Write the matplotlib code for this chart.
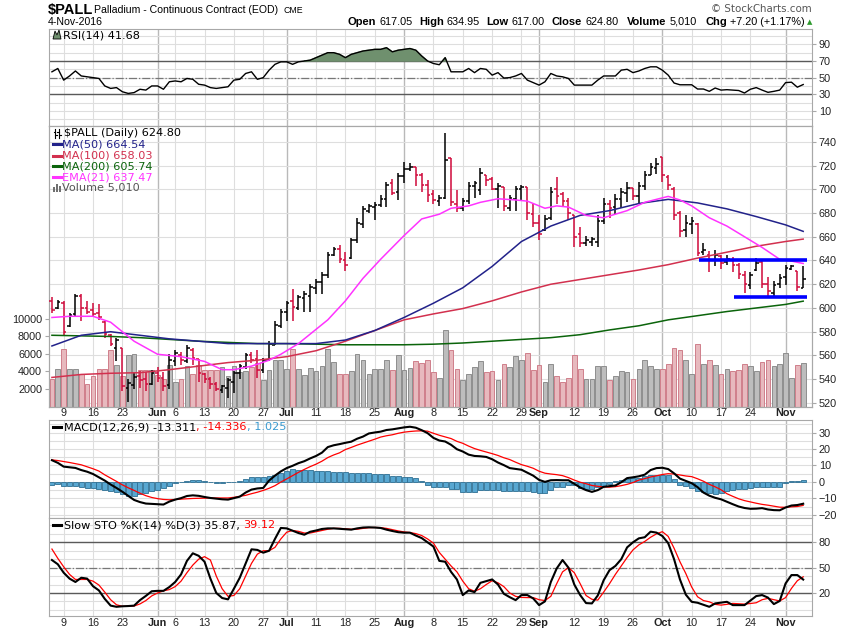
#! /usr/bin/env python3
import numpy as np
import pandas as pd
import matplotlib
matplotlib.use("Agg")
import matplotlib.pyplot as plt
import matplotlib.transforms as mtransforms
from matplotlib.patches import Polygon, Rectangle
from matplotlib.lines import Line2D

plt.rcParams['font.family'] = 'Liberation Sans'

W, H = 850, 633

# trading days on the chart (exchange holidays dropped)
holidays = ["2016-05-30", "2016-07-04", "2016-09-05"]
dates = pd.bdate_range("2016-05-05", "2016-11-04")
dates = dates[~dates.isin(pd.to_datetime(holidays))]

opens = [606, 600, 604, 585, 595, 610, 600, 598, 596, 588,
         577, 566, 566, 533, 535, 543, 540, 536, 545, 541,
         535, 555, 560, 555, 565, 557, 544, 540, 536, 531,
         533, 538, 545, 550, 560, 557, 548, 556, 569, 585,
         597, 606, 600, 608, 610, 617, 622, 628, 645, 650,
         640, 642, 657, 671, 682, 685, 687, 692, 705, 698,
         711, 717, 719, 712, 704, 696, 690, 693, 726, 688,
         684, 690, 703, 699, 712, 709, 700, 702, 684, 692,
         700, 702, 679, 672, 666, 676, 700, 696, 690, 678,
         662, 655, 656, 656, 673, 688, 685, 692, 697, 701,
         694, 703, 712, 718, 727, 710, 700, 680, 666, 671,
         671, 647, 645, 640, 644, 639, 640, 636, 628, 619,
         632, 639, 620, 613, 620, 626, 633, 631, 617.05]
highs = [609, 607, 606, 596, 612, 612, 606, 604, 603, 589,
         578, 575, 566, 540, 545, 547, 546, 548, 550, 546,
         561, 565, 563, 569, 566, 557, 545, 542, 538, 535,
         541, 547, 553, 562, 563, 565, 558, 572, 589, 599,
         606, 616, 611, 614, 620, 624, 630, 647, 651, 653,
         647, 659, 676, 686, 688, 689, 695, 706, 709, 714,
         723, 722, 719, 714, 708, 699, 695, 747, 726, 699,
         693, 706, 707, 718, 712, 710, 705, 702, 695, 703,
         704, 702, 688, 678, 678, 702, 710, 698, 693, 678,
         668, 661, 660, 678, 693, 691, 696, 701, 706, 701,
         706, 715, 722, 726, 727, 712, 702, 682, 678, 677,
         672, 655, 648, 649, 645, 645, 643, 638, 631, 630,
         642, 640, 626, 623, 629, 636, 636, 631, 634.95]
lows = [596, 599, 576, 584, 593, 589, 595, 593, 590, 575,
        568, 555, 530, 521, 532, 533, 530, 535, 538, 530,
        532, 551, 552, 554, 552, 538, 537, 532, 530, 528,
        524, 528, 540, 549, 554, 541, 545, 555, 569, 583,
        589, 589, 598, 597, 597, 612, 612, 625, 644, 638,
        631, 641, 655, 667, 680, 674, 685, 685, 695, 691,
        705, 715, 703, 698, 689, 688, 686, 692, 686, 681,
        682, 688, 693, 695, 703, 699, 684, 682, 682, 682,
        690, 674, 668, 657, 665, 674, 688, 685, 674, 651,
        651, 652, 652, 651, 671, 676, 679, 684, 689, 691,
        688, 699, 712, 713, 706, 699, 674, 660, 660, 662,
        644, 645, 630, 635, 633, 636, 630, 624, 613, 616,
        631, 617, 610, 610, 617, 619, 632, 614, 617.00]
closes = [598, 605, 580, 594, 610, 600, 597, 595, 592, 578,
          570, 573, 534, 537, 542, 539, 536, 545, 541, 534,
          556, 562, 556, 566, 558, 545, 540, 536, 532, 534,
          539, 545, 551, 560, 556, 548, 556, 570, 586, 597,
          604, 601, 609, 612, 618, 622, 628, 645, 650, 641,
          636, 657, 672, 683, 686, 687, 692, 704, 697, 711,
          717, 719, 712, 704, 695, 691, 693, 725, 689, 684,
          690, 703, 705, 714, 708, 700, 703, 686, 693, 700,
          702, 680, 672, 662, 675, 698, 694, 690, 680, 660,
          655, 657, 658, 673, 688, 684, 692, 698, 701, 694,
          703, 712, 719, 721, 712, 704, 678, 665, 672, 673,
          646, 649, 640, 645, 638, 641, 636, 629, 620, 628,
          638, 620, 614, 619, 625, 634, 635, 617.6, 624.80]
volume = [3160, 4230, 6510, 4230, 4300, 3660, 2510, 3430, 4300, 4230,
          6400, 4690, 3430, 5900, 6020, 4190, 4150, 4150, 3580, 3090,
          4760, 2780, 3120, 4650, 3660, 4690, 4150, 4150, 4150, 4490,
          3430, 4570, 3920, 4000, 4490, 4950, 2970, 4150, 5260, 5330,
          4300, 6590, 4230, 3540, 4420, 4000, 4650, 6590, 5070, 3660,
          3660, 4000, 5940, 5330, 3730, 4300, 4230, 5330, 4150, 5830,
          4150, 4420, 5140, 4950, 5330, 3920, 3280, 8770, 6400, 4300,
          2970, 3730, 4490, 5140, 3920, 4000, 2970, 4870, 4490, 5710,
          5330, 6100, 4150, 4690, 2780, 4800, 3430, 2780, 3280, 5830,
          4230, 3160, 3160, 4570, 4650, 3050, 3430, 4000, 3920, 3160,
          4230, 5330, 4570, 4300, 4300, 4800, 6700, 6480, 5330, 3660,
          7160, 4800, 5330, 4690, 3730, 4300, 4000, 4150, 4800, 4650,
          4000, 5070, 5330, 4650, 4800, 6130, 3280, 4760, 5010]

# simple moving averages read once a week
ma_idx = [0, 5, 10, 15, 20, 25, 30, 35, 40, 45, 50, 55, 60, 65, 70,
          75, 80, 85, 90, 95, 100, 105, 110, 115, 120, 125, 128]
ma50 = [568, 577, 580, 577, 574, 572, 570, 570, 570, 570, 573, 581, 592, 604, 617,
        635, 656, 669, 678, 682, 688, 691.5, 688.5, 683.5, 677, 670, 664.54]
ma100 = [541.5, 544, 545, 545.5, 548, 551, 554, 556, 559, 564, 572, 581, 590, 595, 599.5,
         606, 613.5, 620, 624, 628, 632, 636.5, 642, 647, 652, 656, 658.03]
ma200 = [577, 576.5, 576, 575, 573.5, 572, 571, 570, 570, 569.5, 569, 569, 569, 569.5, 570.5,
         572, 573.5, 575, 577.5, 581.5, 585, 590, 593.5, 597, 600, 603, 605.74]
# EMA bends more, read more often
ema_idx = [0, 3, 7, 10, 14, 18, 22, 26, 29, 31, 34, 37, 39, 42, 45, 47, 50, 53, 56,
           60, 63, 66, 68, 71, 73, 76, 79, 81, 84, 86, 88, 91, 94, 98, 101, 105, 107,
           109, 112, 115, 121, 124, 126, 128]
ema21 = [592, 593, 593, 588, 572, 561, 559, 555, 548, 548, 551, 556, 561, 570, 582, 590,
         606, 625, 641, 661, 675, 679, 684, 686, 689, 692, 691, 690, 684, 686, 685, 678,
         676, 682, 689, 694, 691, 686, 676, 669, 651, 641, 639.5, 637.47]

rsi = [57, 61, 47, 52, 58, 52, 51, 50, 49, 40,
       37, 38, 33, 31, 32, 36, 35, 40, 40, 36,
       45, 46, 45, 49, 48, 42, 41, 38, 37, 38,
       39, 47, 48, 55, 57, 48, 50, 59, 66, 69,
       69, 66, 69, 70, 71, 74, 77, 80, 80, 78,
       74, 78, 80, 82, 83, 84, 84, 86, 81, 83,
       84, 85, 83, 76, 70, 67, 65.5, 74, 57, 57,
       57, 61, 56, 61, 60, 53, 56, 49.5, 50, 52,
       55, 47, 44, 41, 45, 55, 52, 51, 49, 41,
       41, 41, 41, 47, 52, 52, 52, 59, 60, 56,
       58, 61, 63, 63, 59, 53, 43.5, 41.4, 41.4, 41.4,
       36.3, 36.3, 33.5, 37.5, 35, 35.5, 35, 34.5, 31.5, 36,
       38, 35, 32.3, 33.5, 35, 44, 44.5, 38.5, 41.68]

macd = [13.2, 11.6, 9.3, 8.9, 8.5, 7.2, 6.2, 4.8, 2.8, 0.8,
        -1.6, -3.7, -6.0, -8.5, -11.0, -12.3, -13.2, -13.4, -13.6, -13.8,
        -12.0, -10.8, -9.9, -8.6, -8.2, -8.5, -9.2, -9.8, -10.2, -10.6,
        -10.8, -9.9, -9.0, -6.5, -4.7, -4.0, -3.7, 0.8, 3.8, 6.4,
        8.4, 9.8, 11.4, 12.6, 14.3, 15.8, 17.8, 21.2, 22.3, 23.0,
        23.8, 24.5, 26.3, 27.6, 29.5, 30.1, 30.6, 31.6, 32.0, 32.6,
        33.2, 33.6, 33.0, 31.5, 29.7, 26.8, 25.2, 24.6, 22.6, 19.9,
        18.5, 16.6, 15.8, 15.6, 15.2, 13.8, 11.8, 10.2, 8.4, 7.9,
        7.4, 5.6, 3.8, 1.2, 0.0, 1.0, 1.1, 1.0, 1.0, -1.2,
        -3.4, -5.0, -6.1, -5.0, -3.0, -2.6, -2.2, -0.2, 2.3, 2.8,
        3.4, 4.4, 7.2, 8.4, 8.6, 7.8, 5.2, 2.0, 0.6, -0.8,
        -3.2, -6.5, -8.4, -9.7, -10.6, -12.1, -13.6, -15.0, -15.9, -16.4,
        -16.3, -16.0, -16.8, -17.2, -17.3, -15.6, -14.4, -14.1, -13.311]
signal = [13.4, 13.0, 12.4, 11.8, 11.1, 10.4, 9.2, 8.0, 6.6, 4.3,
          2.3, 0.3, -1.8, -3.6, -5.2, -6.9, -8.4, -9.5, -10.2, -10.7,
          -10.9, -10.7, -10.5, -10.3, -10.1, -10.0, -9.9, -9.8, -9.8, -9.8,
          -9.8, -9.4, -8.8, -8.2, -7.2, -6.3, -5.2, -3.9, -2.3, -0.1,
          1.8, 3.8, 5.8, 7.6, 9.3, 10.8, 12.6, 14.8, 16.4, 17.7,
          19.7, 21.0, 22.4, 23.6, 24.8, 26.0, 27.3, 28.1, 28.7, 29.6,
          30.3, 30.7, 31.0, 31.1, 30.9, 29.6, 28.4, 27.4, 26.4, 24.7,
          23.5, 21.8, 20.3, 19.2, 18.2, 17.2, 16.1, 14.7, 13.6, 12.0,
          10.5, 9.5, 8.3, 6.5, 5.3, 4.8, 4.4, 3.8, 2.6, 1.1,
          -0.2, -1.1, -2.2, -2.7, -3.1, -3.2, -2.9, -2.3, -1.5, -0.4,
          1.1, 2.0, 3.0, 3.7, 4.5, 5.0, 4.8, 4.2, 3.6, 3.2,
          1.9, 0.4, -1.5, -3.0, -4.8, -7.2, -8.8, -10.3, -11.4, -12.2,
          -13.0, -13.7, -14.2, -14.8, -15.4, -15.5, -15.2, -15.0, -14.336]
hist = [-1.8, -1.2, -2.5, -2.8, -2.5, -3.2, -3.8, -4.0, -4.4, -5.0,
        -5.6, -6.4, -7.6, -8.4, -8.9, -7.6, -6.6, -5.5, -4.8, -4.0,
        -2.5, -0.5, -0.2, 0.6, 1.2, 1.2, 0.8, 0.1, -0.4, -0.5,
        -0.3, 0.2, 0.5, 1.5, 2.9, 3.0, 3.0, 3.4, 4.4, 5.6,
        6.6, 7.6, 7.1, 7.0, 7.0, 6.9, 6.8, 6.9, 6.2, 5.9,
        5.9, 5.6, 5.5, 5.5, 5.6, 5.0, 4.6, 4.5, 3.6, 3.6,
        3.2, 2.9, 2.6, 0.5, -2.0, -3.4, -3.4, -3.4, -4.4, -4.4,
        -6.0, -6.1, -6.1, -4.8, -4.8, -4.8, -4.8, -5.5, -5.5, -5.5,
        -5.5, -5.3, -6.3, -6.9, -6.5, -5.0, -3.4, -3.0, -2.0, -2.2,
        -3.6, -4.4, -4.4, -3.0, -2.4, -1.0, 0.6, 1.2, 2.0, 2.4,
        2.4, 3.6, 4.4, 4.4, 4.4, 4.0, 2.0, -1.6, -2.8, -4.0,
        -5.5, -6.0, -6.5, -7.5, -7.0, -5.5, -5.0, -4.4, -4.4, -4.0,
        -3.4, -3.4, -3.4, -3.4, -3.0, -0.8, 0.6, 0.8, 1.025]

sto_k = [59, 54, 44, 37, 33, 38, 37, 28, 23, 13,
         5, 3.6, 4.2, 4.5, 5, 11.5, 16.5, 22, 22.5, 22.5,
         27, 33, 42, 58, 67, 64, 57, 37, 20, 14,
         12.4, 25, 38, 55, 71.7, 71, 67.7, 70, 84, 97,
         96.5, 93.8, 91, 89, 92.5, 94, 95.8, 96.5, 96.5, 96,
         95.5, 95, 96.5, 97.5, 97.8, 97.5, 97, 95, 93.4, 92,
         91.4, 91.4, 88, 85, 80, 75, 58, 57, 45, 36,
         17.5, 23, 21, 32, 34, 36, 30, 19, 15, 11.5,
         17.5, 17.5, 13.5, 5.6, 10, 33, 49, 59, 50, 30,
         17.5, 8, 7.6, 17, 35, 47, 52, 60, 74, 80,
         84.7, 86, 92.6, 91.5, 87.5, 79, 60, 36, 18, 9.5,
         8.4, 6, 3.6, 7.6, 8.5, 9.5, 5.6, 5.6, 5.6, 11,
         16.3, 17.5, 14.5, 6.8, 10.5, 31.3, 41.2, 41.2, 35.87]
sto_d = [72, 61, 51, 42, 36, 36, 36, 34, 29.4, 21,
         12, 6, 4.2, 4.2, 4.5, 7, 11, 16.5, 20, 22.5,
         24, 27.5, 34, 44, 53, 60, 63, 59, 40, 25,
         16, 17, 25, 40, 55, 66, 70, 70, 74, 84,
         92, 94, 93, 91, 91, 92.5, 94, 95.5, 96.5, 96.5,
         96, 95.5, 95.5, 96.5, 97.3, 97.6, 97.4, 96.5, 95, 93.5,
         92.3, 91.6, 90.3, 88, 84, 79, 68, 60, 52, 45,
         34, 25, 22, 25, 30, 34.5, 32, 27.5, 20, 16,
         14.7, 14.5, 14.5, 12, 11, 16, 31, 45, 50, 44,
         31, 17, 12.5, 11.5, 21, 31, 42, 52, 62, 71,
         77, 81, 86, 90, 92.6, 87, 73, 57, 43, 27,
         15.5, 11, 9.5, 6.5, 5.6, 6.5, 7.6, 7.2, 6.8, 7.5,
         8.4, 12, 13.6, 12, 10.5, 14.5, 25.4, 34.5, 39.12]

# hand-drawn support / resistance lines
level_price = [640, 609]
level_from = [110.3, 116.2]
level_to = [128.6, 128.6]

x = np.arange(len(dates))
prev = [opens[0]] + closes[:-1]
up = np.array([c > p for c, p in zip(closes, prev)])

# date labels: month starts in bold, first trading day of each week
month_pos = [i for i in range(1, len(dates)) if dates[i].month != dates[i - 1].month]
week_pos = [i for i in range(1, len(dates))
            if dates[i].isocalendar()[1] != dates[i - 1].isocalendar()[1]]
week_pos = [i for i in week_pos if min(abs(i - m) for m in month_pos) > 2]
labels = [(i, dates[i].strftime('%b'), True) for i in month_pos] + \
         [(i, str(dates[i].day), False) for i in week_pos]

GRID = '#dedede'
MGRID = '#b9b9b9'
FRAME = '#a8a8a8'

fig = plt.figure(figsize=(W / 100, H / 100), dpi=100)
renderer = fig.canvas.get_renderer()


def rect(top, bottom):
    return [49 / W, 1 - bottom / H, (812 - 49) / W, (bottom - top) / H]


def ftext(px, py, s, **kw):
    kw.setdefault('va', 'center')
    return fig.text(px / W, 1 - py / H, s, **kw)


def chain(px, py, parts, gap=0, **kw):
    # parts: (text, colour, weight); each piece starts where the last one ended
    for s, c, wgt in parts:
        t = ftext(px, py, s, color=c, fontweight=wgt, **kw)
        px = t.get_window_extent(renderer).x1 + gap
    return px


def base(ax, ylim, yticks, hgrid):
    ax.set_xlim(-0.5, 129.5)
    ax.set_ylim(*ylim)
    ax.set_xticks([])
    ax.yaxis.tick_right()
    ax.set_yticks(yticks)
    ax.tick_params(axis='y', labelsize=7.8, length=3, color=FRAME,
                   labelcolor='#222222', pad=2)
    for s in ax.spines.values():
        s.set_color(FRAME)
    for p in week_pos:
        ax.axvline(p, color=GRID, lw=0.8, zorder=0)
    for p in month_pos:
        ax.axvline(p, color=MGRID, lw=1.0, zorder=0)
    for y in hgrid:
        ax.axhline(y, color=GRID, lw=0.8, zorder=0)


def date_row(ax, yax):
    tr = mtransforms.blended_transform_factory(ax.transData, ax.transAxes)
    for pos, txt, bold in labels:
        ax.text(pos, yax, txt, transform=tr, ha='center', va='center',
                fontsize=7.8, fontweight='bold' if bold else 'normal',
                color='#222222', clip_on=False)


# ---- RSI ----
ax_rsi = fig.add_axes(rect(29, 126))
base(ax_rsi, (-8.2, 108.5), [10, 30, 50, 70, 90], range(0, 101, 10))
ax_rsi.axhline(70, color='#5a5a5a', lw=1.0, zorder=1)
ax_rsi.axhline(30, color='#5a5a5a', lw=1.0, zorder=1)
ax_rsi.axhline(50, color='#777777', lw=0.9, ls='-.', zorder=1)
r = np.array(rsi)
ax_rsi.fill_between(x, r, 70, where=r >= 70, interpolate=True,
                    color='#6f906e', zorder=2)
ax_rsi.fill_between(x, r, 30, where=r <= 30, interpolate=True,
                    color='#6f906e', zorder=2)
ax_rsi.plot(x, rsi, color='black', lw=1.0, zorder=3)

# ---- price + volume ----
ax_vol = fig.add_axes(rect(126, 406.5))
ax_vol.set_xlim(-0.5, 129.5)
ax_vol.set_xticks([])
ax_vol.set_yticks([2000, 4000, 6000, 8000, 10000])
ax_vol.tick_params(axis='y', labelsize=7.8, length=3, color=FRAME,
                   labelcolor='#222222', pad=2)
for s in ax_vol.spines.values():
    s.set_color(FRAME)
ax_px = ax_vol.twinx()
ax_px.set_xlim(-0.5, 129.5)
ax_px.set_ylim(517, 753.3)
ax_px.set_yticks(range(520, 741, 20))
ax_px.tick_params(axis='y', labelsize=7.8, length=3, color=FRAME,
                  labelcolor='#222222', pad=2)
for s in ax_px.spines.values():
    s.set_color(FRAME)

for p in week_pos:
    ax_vol.axvline(p, color=GRID, lw=0.8, zorder=0)
for p in month_pos:
    ax_vol.axvline(p, color=MGRID, lw=1.0, zorder=0)
tr = mtransforms.blended_transform_factory(ax_vol.transAxes, ax_px.transData)
for y in range(520, 741, 20):
    ax_vol.add_line(Line2D([0, 1], [y, y], transform=tr, color=GRID, lw=0.8, zorder=0))

vol_face = np.where(up, '#bdbdbd', '#e7b9be')
vol_edge = np.where(up, '#8e8e8e', '#cf7f8b')
ax_vol.bar(x, volume, width=0.8, color=vol_face, edgecolor=vol_edge, lw=0.7, zorder=2)
ax_vol.set_ylim(0, 32000)

bar_col = np.where(up, 'black', '#d0093b')
ax_px.vlines(x, lows, highs, colors=bar_col, lw=1.1, zorder=3)
ax_px.hlines(opens, x - 0.45, x, colors=bar_col, lw=1.1, zorder=3)
ax_px.hlines(closes, x, x + 0.45, colors=bar_col, lw=1.1, zorder=3)

ax_px.plot(ma_idx, ma200, color='#0b640b', lw=1.1, zorder=4)
ax_px.plot(ma_idx, ma100, color='#d2304e', lw=1.1, zorder=4)
ax_px.plot(ma_idx, ma50, color='#22228a', lw=1.1, zorder=4)
ax_px.plot(ema_idx, ema21, color='#ff33ff', lw=1.1, zorder=4)
ax_px.hlines(level_price, level_from, level_to, colors='#0000ff', lw=2.6, zorder=5)
ax_px.set_ylim(517, 753.3)
date_row(ax_px, -6.5 / 280.5)

# ---- MACD ----
ax_macd = fig.add_axes(rect(420, 518))
base(ax_macd, (-22, 37.7), [-20, -10, 0, 10, 20, 30], range(-20, 36, 5))
ax_macd.bar(x, hist, width=0.85, color='#58a7d1', edgecolor='#2e6f93', lw=0.6, zorder=2)
ax_macd.plot(x, signal, color='#ff0000', lw=0.9, zorder=3)
ax_macd.plot(x, macd, color='black', lw=1.5, zorder=4)

# ---- Slow stochastic ----
ax_sto = fig.add_axes(rect(518, 616))
base(ax_sto, (-7.3, 108.8), [20, 50, 80], range(0, 101, 10))
ax_sto.axhline(80, color='#5a5a5a', lw=1.0, zorder=1)
ax_sto.axhline(20, color='#5a5a5a', lw=1.0, zorder=1)
ax_sto.axhline(50, color='#777777', lw=0.9, ls='-.', zorder=1)
ax_sto.plot(x, sto_d, color='#ff0000', lw=0.9, zorder=3)
ax_sto.plot(x, sto_k, color='black', lw=1.5, zorder=4)
date_row(ax_sto, -6.8 / 98)

# ---- header ----
ftext(48, 10, '$PALL', fontsize=10.5, fontweight='bold')
ftext(94, 10, 'Palladium - Continuous Contract (EOD)', fontsize=7.6)
ftext(283, 10.5, 'CME', fontsize=6.3)
ftext(48, 22, '4-Nov-2016', fontsize=7.6)
ftext(812, 9, '\u00a9 StockCharts.com', fontsize=7.4, ha='right', color='#555555',
      family='DejaVu Sans')
head = [(348, 'Open', '617.05'), (419, 'High', '634.95'), (486, 'Low', '617.00'),
        (552, 'Close', '624.80'), (627, 'Volume', '5,010'), (705, 'Chg', '+7.20 (+1.17%)')]
end = 0
for px_, k, v in head:
    t = ftext(px_, 22, k, fontsize=8, fontweight='bold')
    x1 = t.get_window_extent(renderer).x1 + 3
    t = ftext(x1, 22, v, fontsize=7.8)
    end = t.get_window_extent(renderer).x1
ftext(end + 3, 22.5, '\u25b2', fontsize=5, color='#2e9a2e', family='DejaVu Sans')

# ---- panel legends ----
LEG = dict(fontsize=8.1, family='DejaVu Sans')
fig.add_artist(Polygon([(53 / W, 1 - 39 / H), (55 / W, 1 - 31 / H), (57 / W, 1 - 35 / H),
                        (59 / W, 1 - 30 / H), (61 / W, 1 - 39 / H)], closed=True,
                       transform=fig.transFigure, facecolor='#6f906e',
                       edgecolor='black', lw=0.6))
ftext(63, 35, 'RSI(14) 41.68', **LEG)

for bx in (55, 59):
    fig.add_artist(Line2D([bx / W, bx / W], [1 - 138 / H, 1 - 129 / H],
                          transform=fig.transFigure, color='black', lw=0.8))
    fig.add_artist(Line2D([(bx - 1.5) / W, bx / W], [1 - 132 / H, 1 - 132 / H],
                          transform=fig.transFigure, color='black', lw=0.8))
    fig.add_artist(Line2D([bx / W, (bx + 1.5) / W], [1 - 135 / H, 1 - 135 / H],
                          transform=fig.transFigure, color='black', lw=0.8))
ftext(64, 133.5, '$PALL (Daily) 624.80', color='black', **LEG)
leg_rows = [(144.5, 'MA(50) 664.54', '#22228a'), (155.5, 'MA(100) 658.03', '#d2304e'),
            (166.3, 'MA(200) 605.74', '#0b640b'), (177.2, 'EMA(21) 637.47', '#ff33ff')]
for yy, s, c in leg_rows:
    fig.add_artist(Line2D([52.5 / W, 61 / W], [1 - yy / H, 1 - yy / H],
                          transform=fig.transFigure, color=c, lw=2.2))
    ftext(62.5, yy, s, color=c, **LEG)
for bx, bh in ((53, 5), (56, 8), (59, 6)):
    fig.add_artist(Rectangle((bx / W, 1 - 192 / H), 2.2 / W, bh / H,
                             transform=fig.transFigure, facecolor='#707070', lw=0))
ftext(62.5, 187.7, 'Volume 5,010', color='#555555', **LEG)

fig.add_artist(Line2D([52.5 / W, 60.5 / W], [1 - 427.3 / H, 1 - 427.3 / H],
                      transform=fig.transFigure, color='black', lw=2.2))
chain(64, 427.3, [('MACD(12,26,9) -13.311', 'black', 'normal'),
                  (', -14.336', '#ff0000', 'normal'),
                  (', 1.025', '#3a9ad0', 'normal')], **LEG)

fig.add_artist(Line2D([52.5 / W, 60.5 / W], [1 - 525 / H, 1 - 525 / H],
                      transform=fig.transFigure, color='black', lw=2.2))
chain(64, 525, [('Slow STO %K(14) %D(3) 35.87, ', 'black', 'normal'),
                ('39.12', '#ff0000', 'normal')], **LEG)

fig.savefig('out.png', dpi=100, facecolor='white')
